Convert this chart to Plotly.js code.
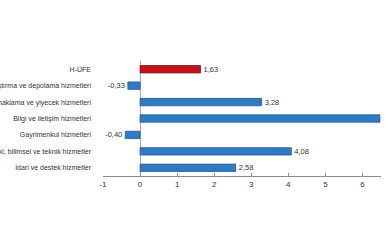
<!DOCTYPE html>
<html>
<head>
<meta charset="utf-8">
<script src="https://cdn.plot.ly/plotly-3.0.1.min.js"></script>
<style>html,body{margin:0;padding:0;background:#fff;}#chart{width:385px;height:250px;}</style>
</head>
<body>
<div id="chart"></div>
<script>
const categories = [
  "H-ÜFE",
  "Ulaştırma ve depolama hizmetleri",
  "Konaklama ve yiyecek hizmetleri",
  "Bilgi ve iletişim hizmetleri",
  "Gayrimenkul hizmetleri",
  "Mesleki, bilimsel ve teknik hizmetler",
  "İdari ve destek hizmetler"
];
const values = [1.63, -0.33, 3.28, 6.47, -0.40, 4.08, 2.58];
const xTickVals = [-1, 0, 1, 2, 3, 4, 5, 6];
const xTickText = ["-1", "0", "1", "2", "3", "4", "5", "6"];

const barColors = categories.map((c, i) => i === 0 ? "#c0151c" : "#2e7bc3");
const lineColors = categories.map((c, i) => i === 0 ? "#8e1016" : "#1f5e9c");
const labels = values.map(v => v.toFixed(2).replace(".", ","));

const trace = {
  type: "bar",
  orientation: "h",
  x: values,
  y: categories,
  marker: {color: barColors, line: {color: lineColors, width: 0.8}},
  width: 0.45,
  text: labels,
  textposition: "outside",
  constraintext: "none",
  cliponaxis: true,
  textfont: {family: "Liberation Sans, Arial, sans-serif", size: 7.5, color: "#333"},
  hoverinfo: "none"
};

const layout = {
  width: 385, height: 250,
  margin: {l: 103, r: 4, t: 61, b: 74, pad: 0},
  paper_bgcolor: "#fff", plot_bgcolor: "#fff",
  showlegend: false,
  font: {family: "Liberation Sans, Arial, sans-serif", color: "#333"},
  xaxis: {
    range: [-1, 6.5],
    tickvals: xTickVals, ticktext: xTickText,
    showgrid: false,
    zeroline: true, zerolinecolor: "#a6a6a6", zerolinewidth: 1,
    showline: true, linecolor: "#8c8c8c", linewidth: 1,
    ticks: "inside", ticklen: 3, tickcolor: "#8c8c8c",
    tickfont: {size: 8, color: "#333"},
    fixedrange: true
  },
  yaxis: {
    type: "category",
    autorange: "reversed",
    automargin: false,
    showgrid: false, zeroline: false, showline: false,
    ticks: "",
    ticklabelstandoff: 11,
    tickfont: {size: 7, color: "#333"},
    fixedrange: true
  }
};

Plotly.newPlot("chart", [trace], layout, {staticPlot: true, displayModeBar: false});
</script>
</body>
</html>
